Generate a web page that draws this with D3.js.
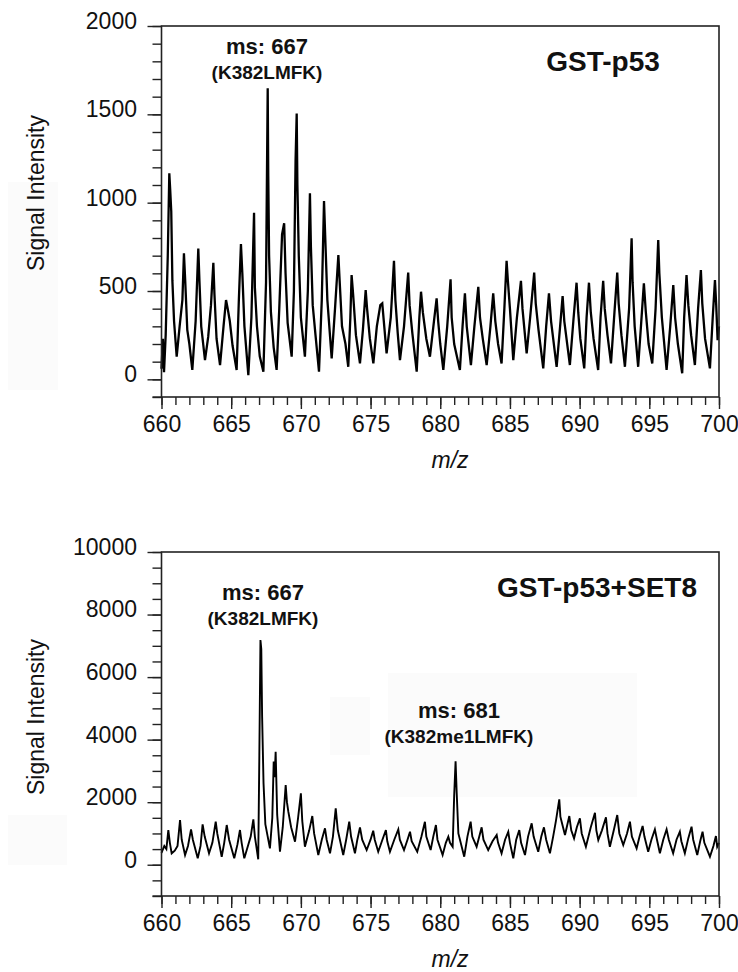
<!DOCTYPE html>
<html>
<head>
<meta charset="utf-8">
<script src="https://cdn.jsdelivr.net/npm/d3@7"></script>
<style>
  html, body { margin: 0; padding: 0; background: #fff; }
  svg text { font-family: "Liberation Sans", Arial, Helvetica, sans-serif; fill: #111; }
</style>
</head>
<body>
<div id="content"></div>
<script>
// m/z range and ticks (shared by both panels)
var mzDomain = [660, 700];
var mzMajor = [660, 665, 670, 675, 680, 685, 690, 695, 700];

// GST-p53 spectrum, [m/z, signal intensity]
var p53Spectrum = [
  [660.00, 60], [660.10, 230], [660.18, 40], [660.30, 250], [660.45, 700], [660.56, 1166], [660.62, 1080],
  [660.70, 950], [660.78, 560], [660.90, 330], [661.09, 128], [661.30, 300], [661.50, 450], [661.61, 713],
  [661.70, 560], [661.85, 280], [662.00, 200], [662.21, 53], [662.45, 330], [662.64, 741], [662.72, 560],
  [662.85, 300], [663.12, 109], [663.35, 240], [663.55, 420], [663.72, 660], [663.80, 480], [663.95, 230],
  [664.20, 81], [664.45, 300], [664.63, 449], [664.75, 400], [664.90, 330], [665.10, 190], [665.39, 53],
  [665.55, 450], [665.70, 766], [665.80, 600], [665.95, 300], [666.23, 24], [666.45, 350], [666.64, 943],
  [666.70, 520], [666.85, 300], [667.05, 130], [667.31, 43], [667.50, 550], [667.62, 1647], [667.66, 1150],
  [667.72, 700], [667.85, 380], [668.05, 180], [668.26, 53], [668.45, 400], [668.65, 820], [668.80, 883],
  [668.90, 600], [669.05, 320], [669.34, 128], [669.50, 500], [669.62, 1240], [669.70, 1505], [669.75, 1100],
  [669.85, 700], [670.00, 350], [670.29, 128], [670.50, 500], [670.65, 1053], [670.72, 750], [670.85, 420],
  [671.05, 250], [671.30, 43], [671.50, 450], [671.66, 1009], [671.75, 800], [671.90, 450], [672.21, 119],
  [672.45, 400], [672.69, 703], [672.78, 560], [672.95, 300], [673.20, 200], [673.40, 71], [673.55, 350],
  [673.64, 590], [673.75, 480], [673.95, 250], [674.24, 90], [674.45, 280], [674.65, 505], [674.75, 400],
  [674.95, 230], [675.20, 90], [675.45, 300], [675.70, 420], [675.84, 430], [675.95, 330], [676.15, 147],
  [676.45, 350], [676.68, 671], [676.78, 450], [676.95, 260], [677.11, 109], [677.40, 300], [677.70, 604],
  [677.80, 420], [678.00, 260], [678.31, 43], [678.50, 350], [678.62, 496], [678.75, 380], [679.00, 230],
  [679.26, 128], [679.55, 330], [679.74, 458], [679.85, 330], [680.00, 200], [680.22, 53], [680.50, 300],
  [680.74, 566], [680.82, 350], [681.00, 200], [681.41, 53], [681.60, 300], [681.77, 487], [681.90, 300],
  [682.20, 81], [682.45, 300], [682.73, 524], [682.85, 350], [683.05, 230], [683.33, 81], [683.60, 300],
  [683.80, 487], [683.95, 330], [684.15, 200], [684.40, 90], [684.60, 400], [684.76, 671], [684.85, 560],
  [685.00, 400], [685.24, 109], [685.50, 350], [685.79, 558], [685.90, 400], [686.20, 147], [686.45, 350],
  [686.74, 604], [686.85, 430], [687.05, 280], [687.39, 62], [687.60, 300], [687.80, 487], [687.95, 330],
  [688.35, 71], [688.60, 300], [688.78, 471], [688.90, 330], [689.30, 81], [689.55, 330], [689.78, 547],
  [689.90, 380], [690.05, 230], [690.33, 62], [690.50, 350], [690.67, 547], [690.80, 380], [691.00, 230],
  [691.33, 53], [691.50, 350], [691.69, 558], [691.80, 400], [692.00, 250], [692.25, 90], [692.50, 380],
  [692.70, 604], [692.80, 430], [693.00, 250], [693.25, 71], [693.55, 400], [693.73, 798], [693.80, 550],
  [693.95, 300], [694.20, 71], [694.40, 300], [694.61, 543], [694.75, 380], [694.95, 200], [695.21, 90],
  [695.45, 400], [695.64, 788], [695.72, 600], [695.90, 350], [696.24, 53], [696.50, 300], [696.72, 534],
  [696.85, 350], [697.05, 200], [697.36, 34], [697.50, 350], [697.67, 590], [697.80, 420], [698.00, 250],
  [698.27, 81], [698.50, 400], [698.70, 619], [698.80, 430], [699.00, 230], [699.35, 62], [699.55, 350],
  [699.71, 562], [699.80, 420], [699.90, 222], [700.00, 300]
];

// GST-p53+SET8 spectrum
var set8Spectrum = [
  [660.00, 380], [660.20, 600], [660.35, 500], [660.49, 1110], [660.60, 700], [660.73, 365], [660.95, 450],
  [661.15, 600], [661.33, 1430], [661.45, 800], [661.69, 310], [661.90, 600], [662.12, 1132], [662.25, 800],
  [662.60, 205], [662.80, 600], [662.95, 1292], [663.10, 900], [663.41, 365], [663.65, 700], [663.89, 1375],
  [664.00, 1000], [664.32, 256], [664.50, 700], [664.68, 1270], [664.85, 800], [665.22, 205], [665.45, 650],
  [665.63, 1110], [665.75, 700], [665.94, 205], [666.20, 600], [666.40, 900], [666.59, 1452], [666.70, 900],
  [666.94, 173], [667.02, 3500], [667.10, 7186], [667.16, 6900], [667.22, 4733], [667.32, 2610], [667.45, 1300],
  [667.78, 524], [667.95, 1500], [668.05, 3300], [668.12, 2800], [668.19, 3614], [668.30, 1600], [668.50, 416],
  [668.70, 1200], [668.91, 2549], [669.00, 2000], [669.10, 1695], [669.30, 1200], [669.58, 736], [669.80, 1500],
  [670.00, 2283], [670.10, 1400], [670.29, 576], [670.60, 1100], [670.82, 1557], [670.95, 1000], [671.25, 310],
  [671.50, 800], [671.73, 1164], [671.85, 800], [672.09, 365], [672.30, 900], [672.50, 1804], [672.65, 1100],
  [673.04, 310], [673.25, 800], [673.47, 1375], [673.60, 900], [673.88, 365], [674.05, 800], [674.24, 1196],
  [674.40, 800], [674.72, 470], [675.00, 800], [675.19, 1087], [675.30, 800], [675.55, 416], [675.85, 800],
  [676.10, 1110], [676.20, 750], [676.39, 416], [676.70, 800], [676.99, 1132], [677.10, 800], [677.40, 470],
  [677.65, 800], [677.83, 1055], [677.95, 750], [678.35, 416], [678.65, 900], [678.90, 1375], [679.00, 900],
  [679.31, 470], [679.50, 900], [679.69, 1270], [679.80, 800], [680.17, 310], [680.40, 700], [680.58, 896],
  [680.70, 700], [680.89, 576], [681.00, 2229], [681.10, 3310], [681.18, 2300], [681.30, 1000], [681.72, 256],
  [681.95, 900], [682.18, 1375], [682.30, 900], [682.61, 576], [682.80, 900], [682.97, 1196], [683.10, 800],
  [683.44, 470], [683.75, 750], [684.05, 950], [684.15, 700], [684.40, 365], [684.65, 800], [684.88, 1055],
  [685.00, 700], [685.24, 205], [685.45, 800], [685.67, 1110], [685.80, 700], [686.08, 310], [686.30, 900],
  [686.56, 1324], [686.70, 900], [687.03, 416], [687.25, 900], [687.44, 1196], [687.60, 800], [687.87, 365],
  [688.10, 900], [688.30, 1400], [688.54, 2091], [688.62, 1535], [688.75, 1300], [688.95, 950], [689.26, 1557],
  [689.40, 1100], [689.60, 844], [689.80, 1200], [690.02, 1484], [690.15, 1000], [690.45, 576], [690.80, 1200],
  [691.10, 1663], [691.20, 1100], [691.34, 790], [691.60, 1100], [691.89, 1516], [692.00, 1000], [692.17, 576],
  [692.45, 1100], [692.70, 1589], [692.85, 1000], [693.13, 630], [693.40, 1000], [693.61, 1375], [693.75, 900],
  [694.09, 524], [694.30, 900], [694.52, 1238], [694.65, 900], [694.92, 416], [695.15, 800], [695.40, 1132],
  [695.55, 800], [695.76, 365], [696.00, 800], [696.24, 1132], [696.40, 800], [696.71, 365], [696.95, 800],
  [697.19, 1055], [697.30, 750], [697.55, 365], [697.80, 850], [698.03, 1215], [698.15, 800], [698.44, 310],
  [698.65, 750], [698.82, 1055], [698.95, 700], [699.35, 256], [699.60, 600], [699.78, 918], [699.87, 576],
  [700.00, 700]
];

// y axes
var p53YDomain = [-100, 2000];
var p53YMajor = [0, 500, 1000, 1500, 2000];
var set8YDomain = [-1000, 10000];
var set8YMajor = [0, 2000, 4000, 6000, 8000, 10000];

// annotations
var p53Labels = [{mz: 667.57, value: 1840, main: "ms: 667", sub: "(K382LMFK)"}];
var set8Labels = [
  {mz: 667.28, value: 8466, main: "ms: 667", sub: "(K382LMFK)"},
  {mz: 681.34, value: 4692, main: "ms: 681", sub: "(K382me1LMFK)"}
];

var W = 738, H = 972;
var svg = d3.select("#content").append("svg")
    .attr("width", W)
    .attr("height", H);

// faint scanning patches visible in the original figure
var patches = [[8, 182, 50, 208], [8, 815, 59, 50], [330, 697, 40, 58], [388, 673, 249, 124]];
svg.selectAll("rect.patch").data(patches).enter().append("rect")
    .attr("class", "patch")
    .attr("x", function(d) { return d[0]; })
    .attr("y", function(d) { return d[1]; })
    .attr("width", function(d) { return d[2]; })
    .attr("height", function(d) { return d[3]; })
    .style("fill", "#fbfbfb");

function panel(opts) {
  var left = 161.5, right = 719;
  var x = d3.scaleLinear().domain(mzDomain).range([left, right]);
  var y = d3.scaleLinear().domain(opts.yDomain).range([opts.bottom, opts.top]);
  var g = svg.append("g");

  // spectrum trace
  var line = d3.line()
      .x(function(d) { return x(d[0]); })
      .y(function(d) { return y(d[1]); });
  g.append("path")
      .datum(opts.data)
      .attr("d", line)
      .style("fill", "none")
      .style("stroke", "#000")
      .style("stroke-width", opts.traceWidth)
      .style("stroke-linejoin", "miter");

  // minor y ticks
  g.append("g")
      .attr("transform", "translate(" + left + ",0)")
      .call(d3.axisLeft(y).tickValues(d3.range(opts.yDomain[0], opts.yDomain[1] + 1, opts.yMinor))
        .tickSize(9).tickSizeOuter(0).tickFormat(""))
      .call(function(s) { s.select(".domain").remove(); });
  // major y ticks + labels
  var ya = g.append("g")
      .attr("transform", "translate(" + left + ",0)")
      .call(d3.axisLeft(y).tickValues(opts.yMajor).tickSize(14).tickSizeOuter(0)
        .tickPadding(10.5).tickFormat(d3.format("d")));
  ya.select(".domain").remove();
  ya.selectAll("text").attr("y", -5).style("font-size", "23px");

  // x ticks
  var xb = g.append("g")
      .attr("transform", "translate(0," + opts.bottom + ")");
  xb.call(d3.axisBottom(x).tickValues(d3.range(660, 701, 1)).tickSize(8).tickSizeOuter(0).tickFormat(""))
    .select(".domain").remove();
  var xa = g.append("g")
      .attr("transform", "translate(0," + opts.bottom + ")")
      .call(d3.axisBottom(x).tickValues(mzMajor).tickSize(12).tickSizeOuter(0)
        .tickPadding(7).tickFormat(d3.format("d")));
  xa.select(".domain").remove();
  xa.selectAll("text").style("font-size", "23px");

  g.selectAll(".tick line").style("stroke", "#222").style("stroke-width", 1.4);
  g.selectAll(".tick text").style("fill", "#111");

  // frame
  g.append("rect")
      .attr("x", left).attr("y", opts.top)
      .attr("width", right - left).attr("height", opts.bottom - opts.top)
      .style("fill", "none").style("stroke", "#222").style("stroke-width", 1.6);
  g.append("line")
      .attr("x1", left - 9).attr("x2", left)
      .attr("y1", opts.bottom).attr("y2", opts.bottom)
      .style("stroke", "#222").style("stroke-width", 1.4);

  // axis titles
  g.append("text")
      .attr("transform", "translate(44," + opts.yTitleY + ") rotate(-90)")
      .attr("text-anchor", "middle")
      .style("font-size", "23px")
      .text("Signal Intensity");
  g.append("text")
      .attr("x", 450).attr("y", opts.bottom + 71)
      .attr("text-anchor", "middle")
      .style("font-size", "23px").style("font-style", "italic")
      .text("m/z");

  // sample name
  g.append("text")
      .attr("x", opts.nameX).attr("y", opts.top + 45)
      .attr("text-anchor", "middle")
      .style("font-size", "28px").style("font-weight", "bold")
      .text(opts.name);

  // peak annotations
  opts.labels.forEach(function(l) {
    g.append("text")
        .attr("x", x(l.mz)).attr("y", y(l.value))
        .attr("text-anchor", "middle")
        .style("font-size", "22px").style("font-weight", "bold")
        .text(l.main);
    g.append("text")
        .attr("x", x(l.mz)).attr("y", y(l.value) + 25)
        .attr("text-anchor", "middle")
        .style("font-size", "19px").style("font-weight", "bold")
        .text(l.sub);
  });
}

panel({
  data: p53Spectrum, yDomain: p53YDomain, yMajor: p53YMajor, yMinor: 100,
  top: 26, bottom: 397, yTitleY: 193, traceWidth: 2.3,
  name: "GST-p53", nameX: 603, labels: p53Labels
});
panel({
  data: set8Spectrum, yDomain: set8YDomain, yMajor: set8YMajor, yMinor: 500,
  top: 552, bottom: 896, yTitleY: 717, traceWidth: 1.9,
  name: "GST-p53+SET8", nameX: 597, labels: set8Labels
});
</script>
</body>
</html>
